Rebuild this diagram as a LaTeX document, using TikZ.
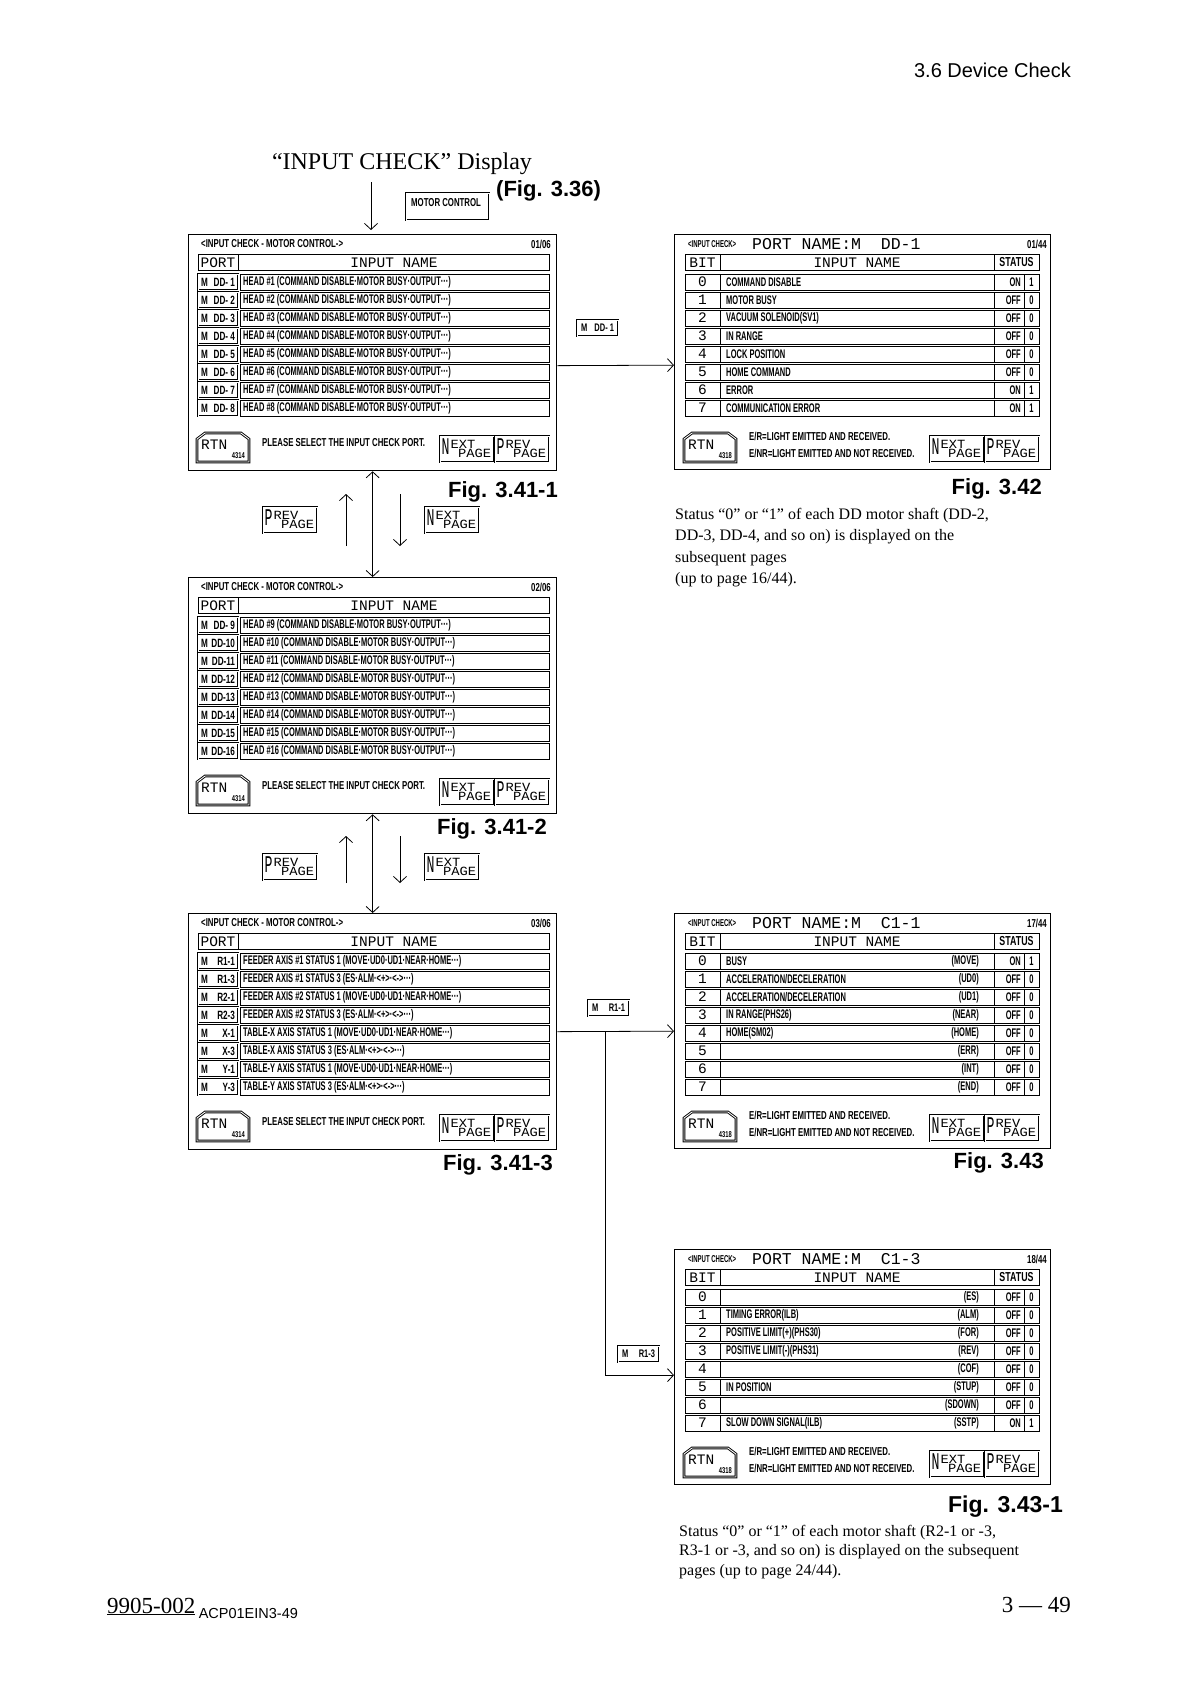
\documentclass[tikz,border=0pt]{standalone}
\usepackage{fontspec}
\setmainfont{Liberation Serif}
\setsansfont{Liberation Sans}
\newfontfamily\lcdfont[FakeStretch=0.6]{Liberation Sans}
\newfontfamily\lcdmid[FakeStretch=0.68]{Liberation Sans}
\newfontfamily\scrmono{Liberation Mono}
\newfontfamily\keywide[FakeStretch=1.1]{Liberation Mono}
\newfontfamily\keytall[FakeStretch=0.55]{Liberation Mono}
\usetikzlibrary{arrows.meta,positioning,calc}

\begin{document}
\begin{tikzpicture}[x=1pt,y=-1pt,
    lcd/.style={font=\lcdfont\bfseries\fontsize{12.5}{14}\selectfont, inner sep=0pt},
    lcdsm/.style={font=\lcdmid\bfseries\fontsize{11.5}{13}\selectfont, inner sep=0pt},
    lcdtiny/.style={font=\lcdfont\bfseries\fontsize{10}{11}\selectfont, inner sep=0pt},
    portlbl/.style={font=\lcdmid\bfseries\fontsize{12}{13}\selectfont, inner sep=0pt},
    hd/.style={font=\scrmono\fontsize{14.5}{16}\selectfont, inner sep=0pt},
    scrn/.style={draw, line width=1.3pt, anchor=north west, inner sep=0pt},
    cell/.style={draw, line width=1pt},
    btn/.style={draw, double, double distance=0.9pt, line width=0.9pt},
    tag/.style={btn, portlbl, font=\lcdmid\bfseries\fontsize{11}{12}\selectfont,
      minimum width=41pt, minimum height=16pt, inner sep=0pt},
    ar/.style={-{Straight Barb[length=6pt,width=13pt]}, line width=0.8pt},
    dar/.style={{Straight Barb[length=6pt,width=13pt]}-{Straight Barb[length=6pt,width=13pt]},
      line width=0.8pt},
    fig/.style={font=\sffamily\bfseries\fontsize{22}{24}\selectfont, inner sep=0pt, anchor=east},
    body/.style={font=\fontsize{16}{21.5}\selectfont, align=left, inner sep=0pt, anchor=north west},
    pics/pgkey/.style 2 args={code={
      \draw[btn] (0,0) rectangle (54,26);
      \node[inner sep=0pt, anchor=base west] at (1.5,12)
        {\raisebox{-6.9pt}{\keytall\fontsize{24}{24}\selectfont #1}\hspace{1pt}%
         \keywide\fontsize{12.5}{13}\selectfont #2\hspace{-17.25pt}\raisebox{-9pt}{PAGE}};
    }},
    pics/rtnkey/.style={code={
      \draw[btn] (0,29) -- (0,6) -- (8,0) -- (44,0) -- (52,6) -- (52,29) -- cycle;
      \node[hd, anchor=west] at (4,12) {RTN};
      \node[font=\lcdmid\bfseries\fontsize{8.5}{9}\selectfont, inner sep=0pt, anchor=east] at (48,22.5) {#1};
    }},
  ]
  \useasboundingbox (0,0) rectangle (1187,1684);

  % page head
  \node[font=\sffamily\fontsize{20}{24}\selectfont, inner sep=0pt, anchor=east] (sec) at (1071,70) {3.6 Device Check};
  \node[font=\fontsize{24}{28}\selectfont, inner sep=0pt] (ttl) at (402,164) {“INPUT CHECK” Display};
  \node[fig, anchor=west] (f336) at (496,191) {(Fig. 3.36)};
  \node[btn, minimum width=83pt, minimum height=27pt, inner sep=0pt] (mc) at (447.5,206.5) {};
  \node[lcdsm, anchor=west] (mct) at (411,203) {MOTOR CONTROL};

  % port screens (left)
  \foreach \ys/\pgno/\scr in {234/01/scrA, 577/02/scrB, 913/03/scrC} {
    \node[scrn, minimum width=368pt, minimum height=236pt] (\scr) at (188,\ys) {};
    \begin{scope}[shift={(188,\ys)}]
      \node[lcdsm, anchor=west] (\scr-ttl) at (13,10) {<INPUT CHECK - MOTOR CONTROL->};
      \node[lcdsm, anchor=east] (\scr-pg) at (363,10) {\pgno/06};
      \draw[cell] (10,20) rectangle (361,36) (50,20) -- (50,36);
      \node[hd] (\scr-port) at (30,28.5) {PORT};
      \node[hd] (\scr-name) at (206,28.5) {INPUT NAME};
      \foreach \rw in {0,...,7} {
        \draw[btn] (10,40+18*\rw) rectangle (50,56+18*\rw);
        \draw[cell] (52,40+18*\rw) rectangle (361,56+18*\rw);
      }
      \pic at (9,199) {rtnkey=4314};
      \node[lcdsm, anchor=west] (\scr-msg) at (74,209) {PLEASE SELECT THE INPUT CHECK PORT.};
      \pic at (252,202) {pgkey={N}{EXT}};
      \pic at (307,202) {pgkey={P}{REV}};
    \end{scope}
  }

  \begin{scope}[shift={(188,234)}]
    \foreach \rw in {1,...,8} {
      \node[portlbl] (pa-\rw) at (30,30+18*\rw) {\makebox[34pt]{M\hfill DD- \rw}};
      \node[lcd, anchor=west] (ha-\rw) at (55,30+18*\rw) {HEAD \#\rw\ (COMMAND DISABLE·MOTOR BUSY·OUTPUT···)};
    }
  \end{scope}
  \begin{scope}[shift={(188,577)}]
    \foreach \rw in {9,...,16} {
      \node[portlbl] (pb-\rw) at (30,30+18*\rw-144) {\makebox[34pt]{M\hfill DD-\ifnum\rw<10 \ \fi\rw}};
      \node[lcd, anchor=west] (hb-\rw) at (55,30+18*\rw-144) {HEAD \#\rw\ (COMMAND DISABLE·MOTOR BUSY·OUTPUT···)};
    }
  \end{scope}
  \begin{scope}[shift={(188,913)}]
    \foreach \pname/\nm [count=\rw] in {
        R1-1/FEEDER AXIS \#1 STATUS 1 (MOVE·UD0·UD1·NEAR·HOME···),
        R1-3/FEEDER AXIS \#1 STATUS 3 (ES·ALM·<+>·<->···),
        R2-1/FEEDER AXIS \#2 STATUS 1 (MOVE·UD0·UD1·NEAR·HOME···),
        R2-3/FEEDER AXIS \#2 STATUS 3 (ES·ALM·<+>·<->···),
        X-1/TABLE-X AXIS STATUS 1 (MOVE·UD0·UD1·NEAR·HOME···),
        X-3/TABLE-X AXIS STATUS 3 (ES·ALM·<+>·<->···),
        Y-1/TABLE-Y AXIS STATUS 1 (MOVE·UD0·UD1·NEAR·HOME···),
        Y-3/TABLE-Y AXIS STATUS 3 (ES·ALM·<+>·<->···)} {
      \node[portlbl] (pc-\rw) at (30,30+18*\rw) {\makebox[34pt]{M\hfill\pname}};
      \node[lcd, anchor=west] (hc-\rw) at (55,30+18*\rw) {\nm};
    }
  \end{scope}

  % bit screens (right)
  \foreach \ys/\pname/\pgno/\scr in {234/DD-1/01/scrD, 913/C1-1/17/scrE, 1249/C1-3/18/scrF} {
    \node[scrn, minimum width=376pt, minimum height=235pt] (\scr) at (674,\ys) {};
    \begin{scope}[shift={(674,\ys)}]
      \node[lcdtiny, anchor=west] (\scr-ttl) at (14,10) {<INPUT CHECK>};
      \node[font=\scrmono\fontsize{16.5}{18}\selectfont, inner sep=0pt, anchor=west] (\scr-pn) at (78,10) {PORT NAME:M\ \ \pname};
      \node[lcdsm, anchor=east] (\scr-pg) at (373,10) {\pgno/44};
      \draw[cell] (11,20) rectangle (365,36) (46,20) -- (46,36) (320,20) -- (320,36);
      \node[hd] (\scr-bit) at (28.5,28.5) {BIT};
      \node[hd] (\scr-name) at (183,28.5) {INPUT NAME};
      \node[lcdsm, font=\lcdmid\bfseries\fontsize{13}{14}\selectfont] (\scr-st) at (342.5,28.5) {STATUS};
      \foreach \bi in {0,...,7} {
        \draw[cell] (11,40+18*\bi) rectangle (365,56+18*\bi);
        \draw[cell] (46,40+18*\bi) -- (46,56+18*\bi) (320,40+18*\bi) -- (320,56+18*\bi)
          (350,40+18*\bi) -- (350,56+18*\bi);
        \node[hd] (\scr-b\bi) at (28.5,48+18*\bi) {\bi};
      }
      \pic at (10,199) {rtnkey=4318};
      \node[lcdsm, anchor=west] (\scr-er) at (75,202) {E/R=LIGHT EMITTED AND RECEIVED.};
      \node[lcdsm, anchor=west] (\scr-enr) at (75,219) {E/NR=LIGHT EMITTED AND NOT RECEIVED.};
      \pic at (256,202) {pgkey={N}{EXT}};
      \pic at (311,202) {pgkey={P}{REV}};
    \end{scope}
  }

  \begin{scope}[shift={(674,234)}]
    \foreach \nm/\sta/\val [count=\bi from 0] in {COMMAND DISABLE/ON/1, MOTOR BUSY/OFF/0,
        VACUUM SOLENOID(SV1)/OFF/0, IN RANGE/OFF/0, LOCK POSITION/OFF/0,
        HOME COMMAND/OFF/0, ERROR/ON/1, COMMUNICATION ERROR/ON/1} {
      \node[lcd, anchor=west] (dn-\bi) at (52,48+18*\bi) {\nm};
      \node[lcd, anchor=east] (ds-\bi) at (347,48+18*\bi) {\sta};
      \node[lcd] (dv-\bi) at (357.5,48+18*\bi) {\val};
    }
  \end{scope}
  \begin{scope}[shift={(674,913)}]
    \foreach \nm/\cd/\sta/\val [count=\bi from 0] in {BUSY/(MOVE)/ON/1,
        {ACCELERATION/DECELERATION}/(UD0)/OFF/0, {ACCELERATION/DECELERATION}/(UD1)/OFF/0,
        IN RANGE(PHS26)/(NEAR)/OFF/0, HOME(SM02)/(HOME)/OFF/0, {}/(ERR)/OFF/0,
        {}/(INT)/OFF/0, {}/(END)/OFF/0} {
      \node[lcd, anchor=west] (en-\bi) at (52,48+18*\bi) {\nm};
      \node[lcd, anchor=east] (ec-\bi) at (305,48+18*\bi) {\cd};
      \node[lcd, anchor=east] (es-\bi) at (347,48+18*\bi) {\sta};
      \node[lcd] (ev-\bi) at (357.5,48+18*\bi) {\val};
    }
  \end{scope}
  \begin{scope}[shift={(674,1249)}]
    \foreach \nm/\cd/\sta/\val [count=\bi from 0] in {{}/(ES)/OFF/0,
        TIMING ERROR(ILB)/(ALM)/OFF/0, POSITIVE LIMIT(+)(PHS30)/(FOR)/OFF/0,
        POSITIVE LIMIT(-)(PHS31)/(REV)/OFF/0, {}/(COF)/OFF/0, IN POSITION/(STUP)/OFF/0,
        {}/(SDOWN)/OFF/0, SLOW DOWN SIGNAL(ILB)/(SSTP)/ON/1} {
      \node[lcd, anchor=west] (fn-\bi) at (52,48+18*\bi) {\nm};
      \node[lcd, anchor=east] (fc-\bi) at (305,48+18*\bi) {\cd};
      \node[lcd, anchor=east] (fs-\bi) at (347,48+18*\bi) {\sta};
      \node[lcd] (fv-\bi) at (357.5,48+18*\bi) {\val};
    }
  \end{scope}

  % keys between the port screens
  \pic at (263,507) {pgkey={P}{REV}};
  \pic at (425,507) {pgkey={N}{EXT}};
  \pic at (263,854) {pgkey={P}{REV}};
  \pic at (425,854) {pgkey={N}{EXT}};
  \node[tag] (kdd) at (597.5,328) {\makebox[33pt]{M\hfill DD- 1}};
  \node[tag] (kr11) at (608.5,1008) {\makebox[33pt]{M\hfill R1-1}};
  \node[tag] (kr13) at (638.5,1354) {\makebox[33pt]{M\hfill R1-3}};

  % connectors
  \coordinate (t0) at (371,182);
  \draw[ar, shorten >=4pt] (t0) -- (t0 |- scrA.north);
  \draw[dar] (scrA.south) -- (scrB.north);
  \draw[dar] (scrB.south) -- (scrC.north);
  \coordinate (up1a) at (346,546); \coordinate (up1b) at (346,494);
  \coordinate (dn1a) at (400,494); \coordinate (dn1b) at (400,546);
  \coordinate (up2a) at (346,883); \coordinate (up2b) at (346,836);
  \coordinate (dn2a) at (400,836); \coordinate (dn2b) at (400,883);
  \draw[ar] (up1a) -- (up1b); \draw[ar] (dn1a) -- (dn1b);
  \draw[ar] (up2a) -- (up2b); \draw[ar] (dn2a) -- (dn2b);
  \draw[ar] ($(scrA.east)+(0,13)$) -- ($(scrD.west)+(0,13)$);
  \draw[ar] (scrC.east) -- (scrE.west);
  \coordinate (jn) at (605,1031);
  \draw[ar] (jn) |- ($(scrF.west)+(0,8)$);

  % figure captions and notes
  \node[fig] (f411) at (558,492) {Fig. 3.41-1};
  \node[fig] (f342) at (1042,489) {Fig. 3.42};
  \node[fig] (f412) at (547,829) {Fig. 3.41-2};
  \node[fig] (f413) at (553,1165) {Fig. 3.41-3};
  \node[fig] (f343) at (1044,1163) {Fig. 3.43};
  \node[fig, font=\sffamily\bfseries\fontsize{23}{25}\selectfont] (f3431) at (1063,1507) {Fig. 3.43-1};
  \node[body] (n342) at (675,508) {Status “0” or “1” of each DD motor shaft (DD-2,\\DD-3, DD-4, and so on) is displayed on the\\subsequent pages\\(up to page 16/44).};
  \node[body, font=\fontsize{16}{19.5}\selectfont] (n3431) at (679,1525) {Status “0” or “1” of each motor shaft (R2-1 or -3,\\R3-1 or -3, and so on) is displayed on the subsequent\\pages (up to page 24/44).};

  % page foot
  \node[font=\fontsize{23}{26}\selectfont, inner sep=0pt, anchor=base west] (code) at (107,1613) {\underline{9905-002}};
  \node[font=\sffamily\fontsize{14.5}{16}\selectfont, inner sep=0pt, anchor=base west, right=3pt of code.base east] (doc) {ACP01EIN3-49};
  \node[font=\fontsize{23}{26}\selectfont, inner sep=0pt, anchor=base east] (pgn) at (1071,1612) {3 — 49};
\end{tikzpicture}
\end{document}
